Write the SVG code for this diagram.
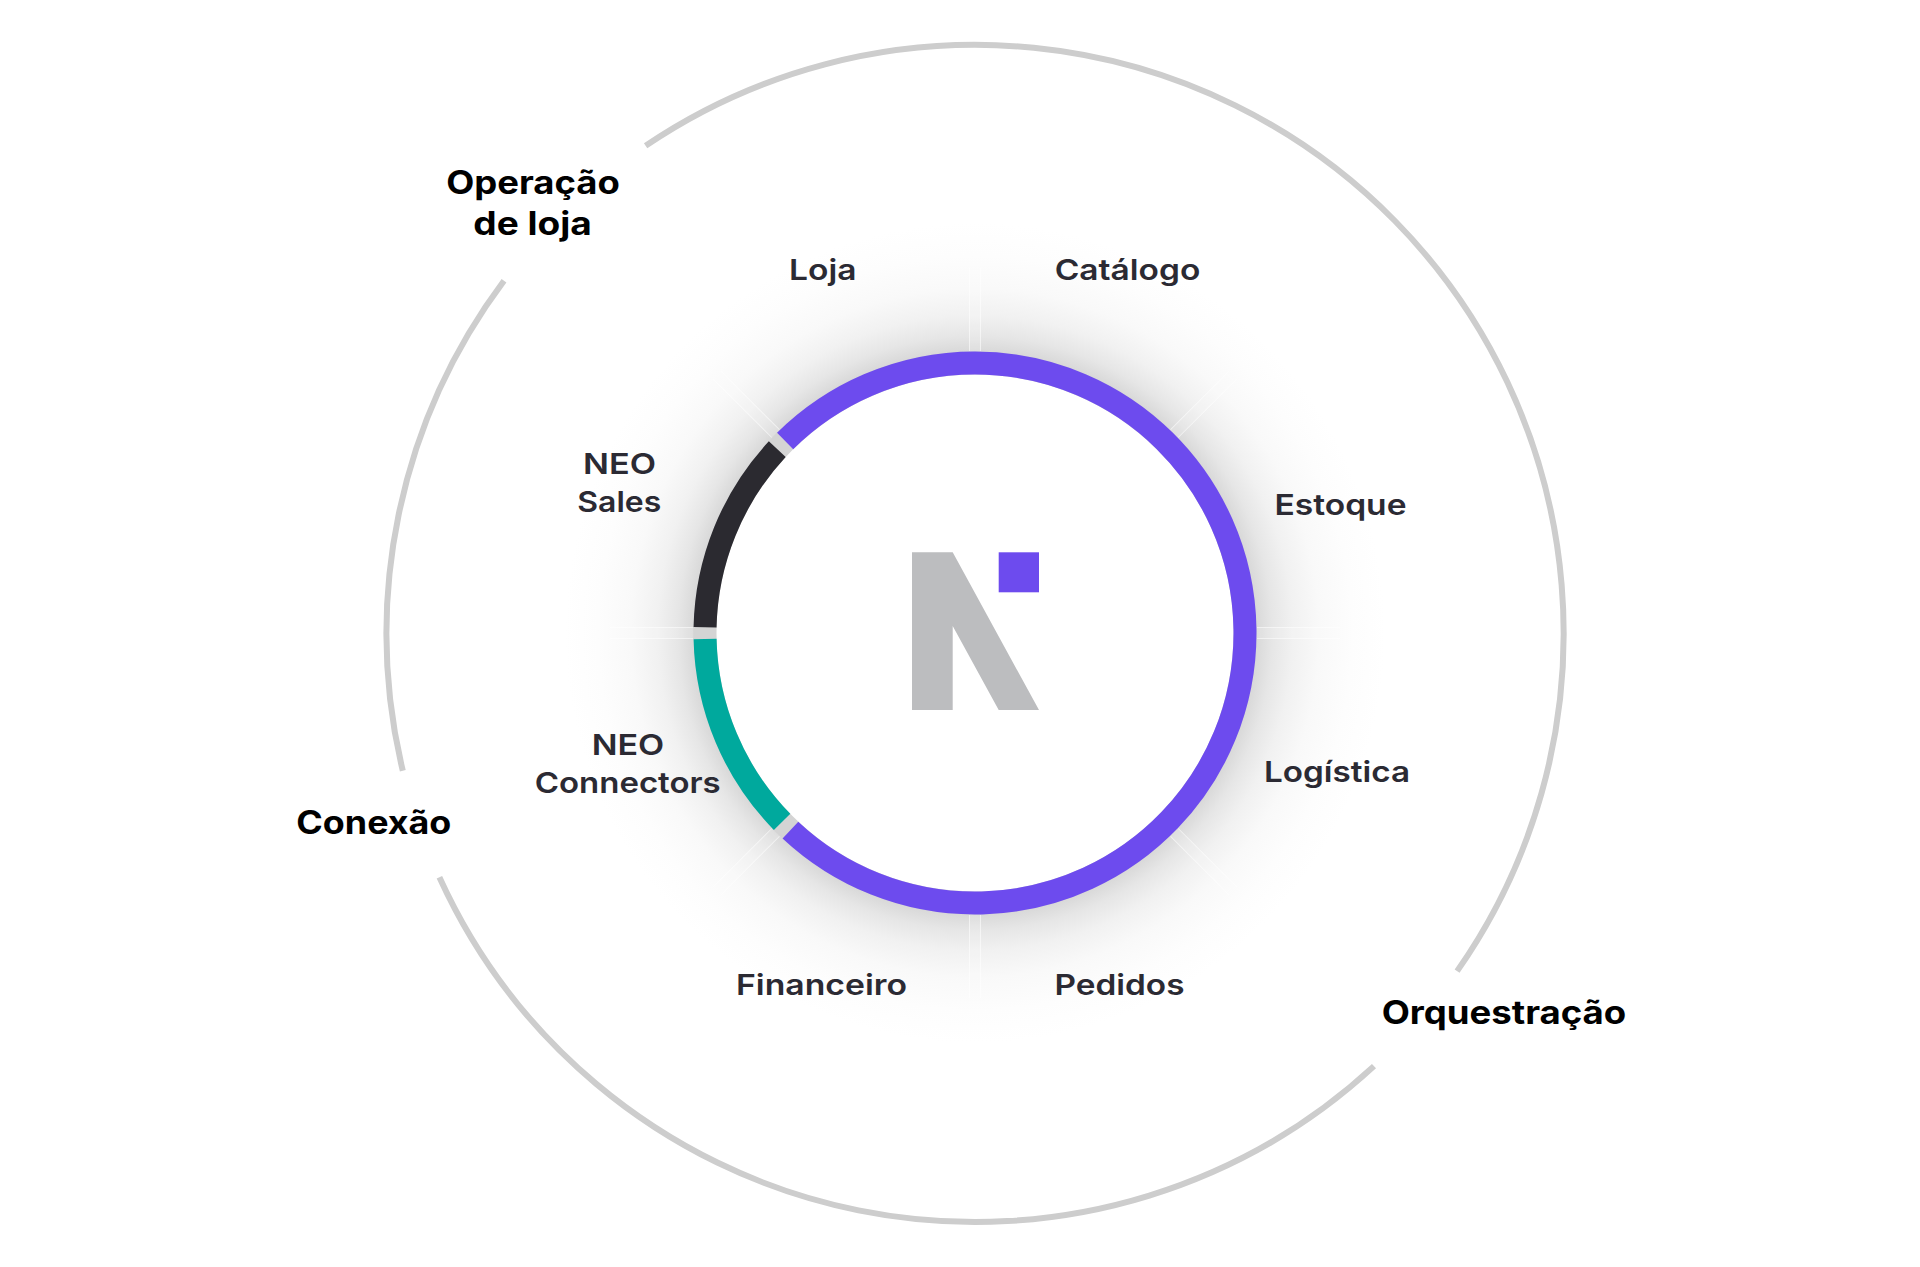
<svg xmlns="http://www.w3.org/2000/svg" xmlns:xlink="http://www.w3.org/1999/xlink" width="1920" height="1267" viewBox="0 0 1920 1267">
<style>
text{font-family:Inter,"Noto Sans","Liberation Sans",sans-serif}
.l{font-size:29px;font-weight:600;fill:#2b2a33}
.h{font-size:32px;font-weight:700;fill:#000}
.o{fill:none;stroke:#cdcdcd;stroke-width:6}
.r{fill:none;stroke-width:23}
.t{stroke:#fff;stroke-width:1;stroke-opacity:.55}
</style>
<defs>
<radialGradient id="sh" gradientUnits="userSpaceOnUse" cx="975" cy="633" r="410">
<stop offset="0" stop-color="#d8d8d8"/>
<stop offset=".685" stop-color="#d8d8d8"/>
<stop offset=".725" stop-color="#e6e6e6"/>
<stop offset=".775" stop-color="#f1f1f1"/>
<stop offset=".84" stop-color="#f9f9f9"/>
<stop offset=".92" stop-color="#fdfdfd"/>
<stop offset="1" stop-color="#fff"/>
</radialGradient>
<g id="tick">
<rect x="282" y="-5.5" width="80" height="11" fill="#fff" fill-opacity=".14"/>
<path class="t" d="M282-5.5H365M282 5.5H365"/>
</g>
</defs>
<rect width="1920" height="1267" fill="#fff"/>
<circle id="shadow" cx="975" cy="633" r="410" fill="url(#sh)"/>
<g id="ticks" transform="translate(975 633)">
<use href="#tick"/><use href="#tick" transform="rotate(45)"/><use href="#tick" transform="rotate(90)"/><use href="#tick" transform="rotate(135)"/><use href="#tick" transform="rotate(180)"/><use href="#tick" transform="rotate(225)"/><use href="#tick" transform="rotate(270)"/><use href="#tick" transform="rotate(315)"/>
</g>
<g id="connectors">
<path class="o" d="M645.6 145.8A588.5 588.5 0 0 1 1457.1 971.1"/>
<path class="o" d="M1374 1066.1A588.5 588.5 0 0 1 439.4 877.3"/>
<path class="o" d="M402.8 770.8A588.5 588.5 0 0 1 504 280.7"/>
</g>
<g id="ring">
<circle cx="975" cy="633" r="270" fill="#fff"/>
<circle class="r" cx="975" cy="633" r="270" stroke="#d4d4d4"/>
<path class="r" stroke="#6d4bee" d="M785.13 441.03A270 270 0 1 1 790.42 830.07"/>
<path class="r" stroke="#2b2a30" d="M705.06 627.3A270 270 0 0 1 777.26 449.16"/>
<path class="r" stroke="#00a99d" d="M705.07 639A270 270 0 0 0 782.09 821.91"/>
</g>
<g id="logo">
<path fill="#bcbdbf" d="M912 552.3H952.7L1039 710H998.7L952.7 626V710H912Z"/>
<rect x="998.7" y="552.3" width="40.3" height="40" fill="#6d4bee"/>
</g>
<g id="node-catalogo"><text class="l" x="1054.7" y="280" textLength="145.6" lengthAdjust="spacingAndGlyphs">Catálogo</text></g>
<g id="node-loja"><text class="l" x="789" y="280" textLength="67.5" lengthAdjust="spacingAndGlyphs">Loja</text></g>
<g id="node-estoque"><text class="l" x="1274.5" y="515" textLength="132" lengthAdjust="spacingAndGlyphs">Estoque</text></g>
<g id="node-logistica"><text class="l" x="1264" y="782" textLength="146" lengthAdjust="spacingAndGlyphs">Logística</text></g>
<g id="node-pedidos"><text class="l" x="1054.5" y="995" textLength="130" lengthAdjust="spacingAndGlyphs">Pedidos</text></g>
<g id="node-financeiro"><text class="l" x="736" y="995" textLength="171" lengthAdjust="spacingAndGlyphs">Financeiro</text></g>
<g id="node-neo-sales"><text class="l" x="583" y="474" textLength="73" lengthAdjust="spacingAndGlyphs">NEO</text><text class="l" x="577.3" y="511.7" textLength="84" lengthAdjust="spacingAndGlyphs">Sales</text></g>
<g id="node-neo-connectors"><text class="l" x="591.7" y="755" textLength="72.6" lengthAdjust="spacingAndGlyphs">NEO</text><text class="l" x="534.7" y="793" textLength="186" lengthAdjust="spacingAndGlyphs">Connectors</text></g>
<g id="node-operacao"><text class="h" x="446.3" y="194" textLength="173.5" lengthAdjust="spacingAndGlyphs">Operação</text><text class="h" x="473.3" y="235" textLength="118.5" lengthAdjust="spacingAndGlyphs">de loja</text></g>
<g id="node-conexao"><text class="h" x="296.3" y="834" textLength="155" lengthAdjust="spacingAndGlyphs">Conexão</text></g>
<g id="node-orquestracao"><text class="h" x="1381.7" y="1024" textLength="244.5" lengthAdjust="spacingAndGlyphs">Orquestração</text></g>
</svg>
